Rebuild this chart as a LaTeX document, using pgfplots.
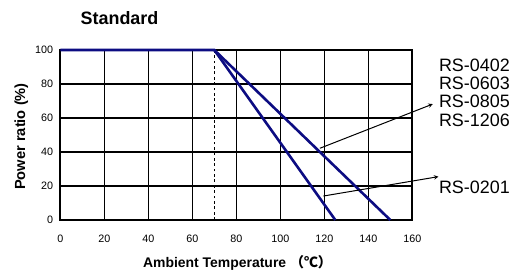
\documentclass[border=0pt]{standalone}
\usepackage{fontspec}
\setmainfont{Liberation Sans}
\newfontfamily\cjk{Noto Sans CJK SC}
\usepackage{pgfplots}
\pgfplotsset{compat=1.18}
\definecolor{navyline}{RGB}{12,12,130}
\begin{document}
\begin{tikzpicture}
\begin{axis}[
  at={(0,0)}, anchor=origin,
  scale only axis, width=352bp, height=170bp,
  xmin=0, xmax=160, ymin=0, ymax=100,
  xtick={0,20,...,160}, ytick={0,20,...,100},
  grid=major, major grid style={black, line width=1.5bp},
  axis line style={black, line width=2.2bp},
  major tick length=0pt,
  tick label style={font=\fontsize{10.8}{12}\selectfont, inner sep=0pt},
  /pgf/number format/assume math mode=true,
  xticklabel style={anchor=base, yshift=-22.4bp},
  yticklabel style={anchor=east, xshift=-7bp},
  clip=false,
]
\draw[black, line width=0.9bp, dash pattern=on 2.7bp off 2.7bp] (axis cs:70,0) -- (axis cs:70,100);
\addplot[navyline, line width=2.6bp] coordinates {(0,100) (70,100) (125,0)};
\addplot[navyline, line width=2.6bp] coordinates {(70,100) (150,0)};
\draw[->, >=stealth, line width=1bp] (axis cs:118,42.2) -- (axis cs:169.3,68.2);
\draw[->, >=stealth, line width=1bp] (axis cs:119.6,14.1) -- (axis cs:171.9,25.5);
\end{axis}
\useasboundingbox (-60.3bp,-50bp) rectangle (451.7bp,220bp);
\begin{scope}[every node/.style={anchor=base west, inner sep=0pt, font=\fontsize{18}{20}\selectfont}]
\node at (378.5bp,148bp) {RS-0402};
\node at (378.5bp,130bp) {RS-0603};
\node at (378.5bp,112bp) {RS-0805};
\node at (378.5bp,93bp) {RS-1206};
\node at (378.5bp,27bp) {RS-0201};
\end{scope}
\node[anchor=base, inner sep=0pt, font=\bfseries\fontsize{18}{20}\selectfont] at (59.2bp,195bp) {Standard};
\node[anchor=base, inner sep=0pt, font=\bfseries\fontsize{14.7}{16}\selectfont, rotate=90] at (-35.3bp,83.5bp) {Power ratio (\%)};
\node[anchor=base, inner sep=0pt, font=\bfseries\fontsize{14}{16}\selectfont] at (177.2bp,-47.3bp) {Ambient Temperature {\cjk\bfseries（℃）}};
\end{tikzpicture}
\end{document}
